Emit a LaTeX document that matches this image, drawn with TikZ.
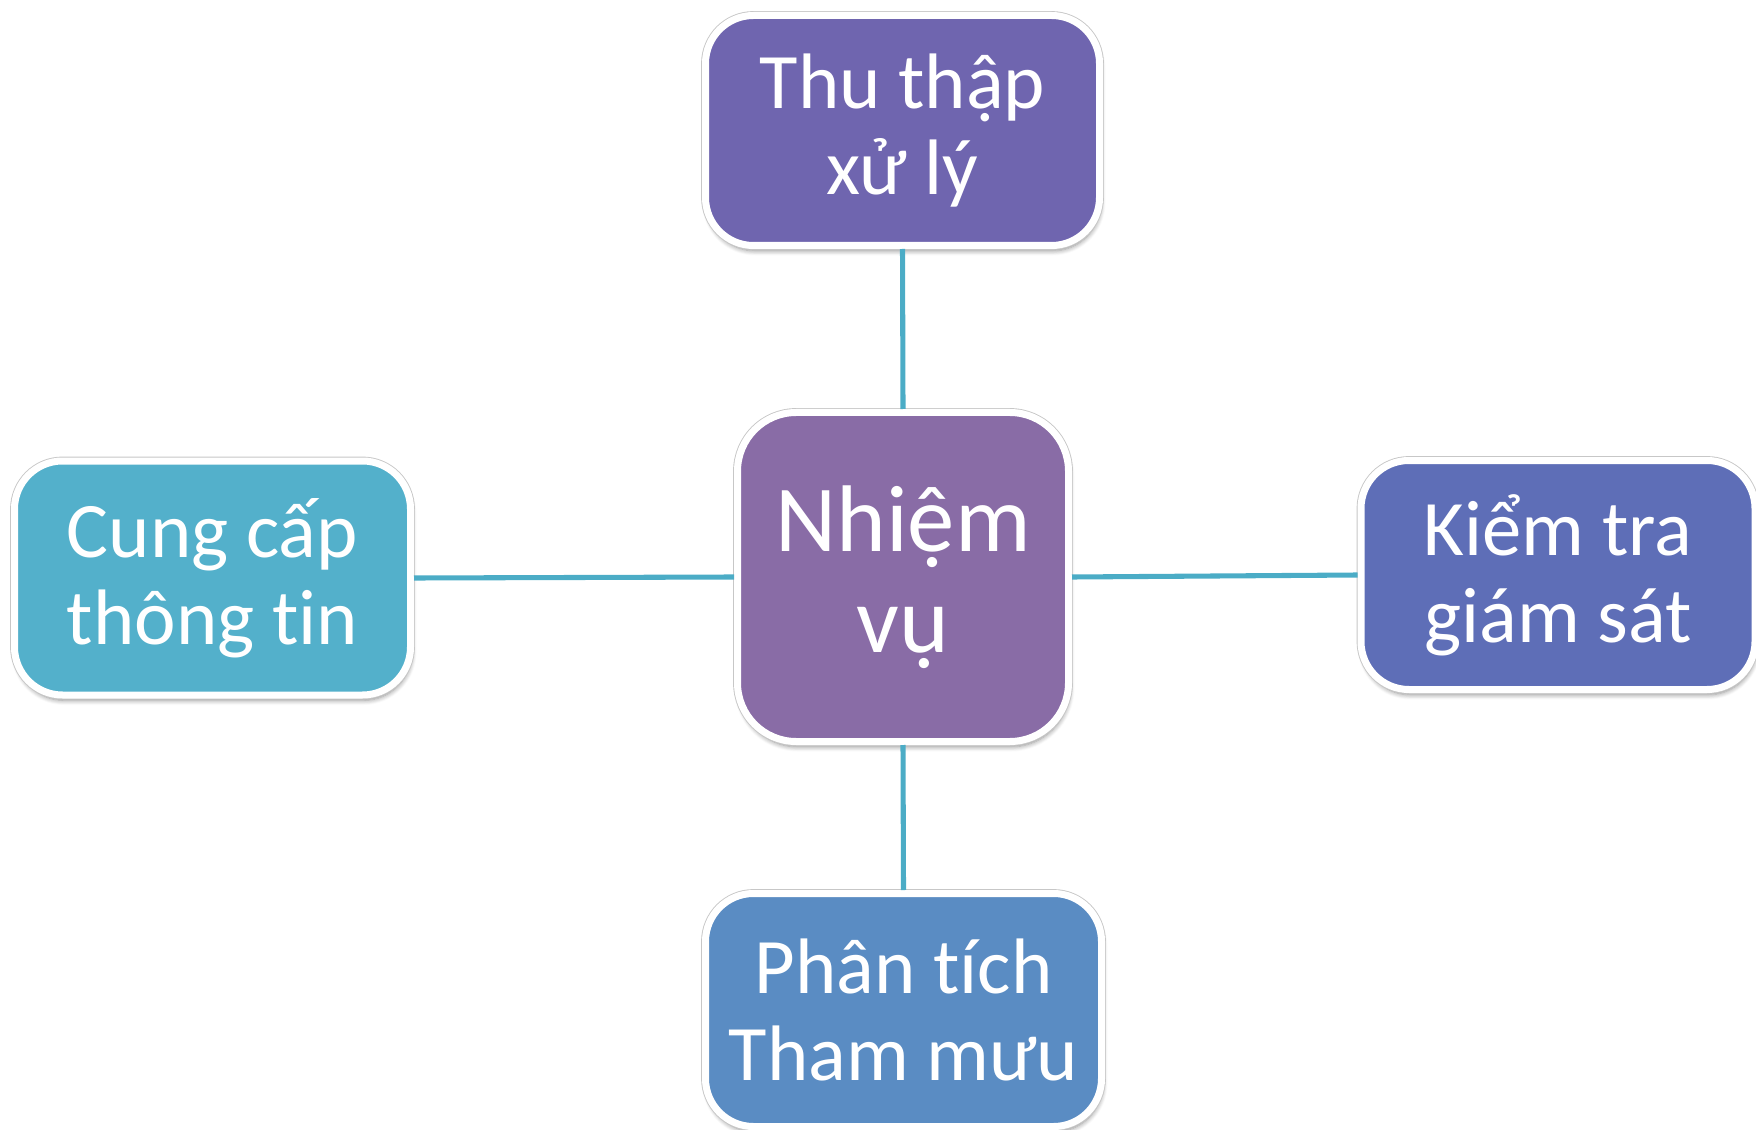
\documentclass[tikz,border=0pt]{standalone}
\usepackage{fontspec}
\setmainfont{Carlito}[Ligatures=NoCommon]
\usetikzlibrary{shadows.blur}
\definecolor{cTop}{RGB}{111,101,175}
\definecolor{cMid}{RGB}{137,108,166}
\definecolor{cLeft}{RGB}{83,176,203}
\definecolor{cRight}{RGB}{94,110,183}
\definecolor{cBot}{RGB}{90,140,195}
\definecolor{cLink}{RGB}{75,172,198}
\tikzset{
  taskbox/.style={draw=white, line width=5.25pt, rounded corners=36pt,
    text=white, align=center, inner sep=0pt,
    font=\fontsize{59}{65}\selectfont,
    blur shadow={shadow xshift=1pt, shadow yshift=-4pt, shadow blur radius=3.5pt, shadow opacity=45, shadow blur steps=6},
    preaction={draw=black!22, line width=6.6pt}},
  midbox/.style={taskbox, rounded corners=44pt, font=\fontsize{71}{76}\selectfont},
  link/.style={draw=cLink, line width=3.8pt}
}
\begin{document}
\begin{tikzpicture}[x=0.75pt,y=-0.75pt]
\useasboundingbox (0,0) rectangle (1756,1130);
\node[taskbox, fill=cTop, minimum width=394*0.75pt, minimum height=230*0.75pt] (top) at (902.5,130.5) {Thu thập\\xử lý};
\node[midbox, fill=cMid, minimum width=331*0.75pt, minimum height=329*0.75pt] (mid) at (903,577) {Nhiệm\\vụ};
\node[taskbox, fill=cLeft, minimum width=396*0.75pt, minimum height=234*0.75pt] (left) at (212.5,578) {Cung cấp\\thông tin};
\node[taskbox, fill=cRight, minimum width=394*0.75pt, minimum height=229*0.75pt] (right) at (1558,575) {Kiểm tra\\giám sát};
\node[taskbox, fill=cBot, minimum width=396*0.75pt, minimum height=233*0.75pt] (bot) at (903.5,1010) {Phân tích\\Tham mưu};
\draw[link] (top.south) -- (mid.north);
\draw[link] (left.east) -- (mid.west);
\draw[link] (mid.east) -- (right.west);
\draw[link] (mid.south) -- (bot.north);
\end{tikzpicture}
\end{document}
